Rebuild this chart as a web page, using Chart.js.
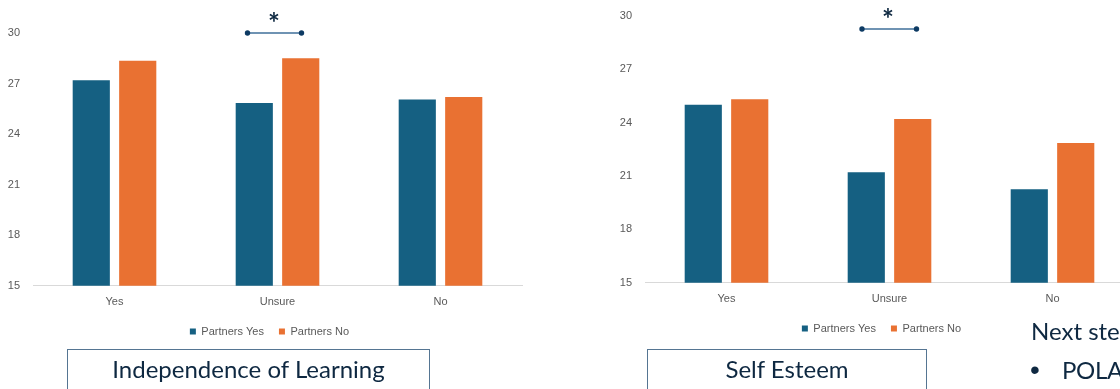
<!DOCTYPE html>
<html>
<head>
<meta charset="utf-8">
<script src="https://cdn.jsdelivr.net/npm/chart.js@4.4.1/dist/chart.umd.min.js"></script>
<style>
  body { margin: 0; width: 1120px; height: 389px; overflow: hidden; background: #fff; position: relative; font-family: Lato, sans-serif; }
  canvas { position: absolute; top: 0; }
  #chartIndep { left: 0; }
  #chartEsteem { left: 612px; top: -4px; }
  .box { position: absolute; top: 349px; height: 60px; border: 1px solid #557592; box-sizing: border-box;
         text-align: center; color: #0E2841; font-size: 24px; line-height: 28px; padding-top: 5px; }
  .txt { position: absolute; color: #0E2841; font-size: 24px; line-height: 28px; white-space: nowrap; }
  .bullet { position: absolute; color: #0E2841; font-family: 'Liberation Sans'; font-size: 28px; line-height: 28px; }
</style>
</head>
<body>
<canvas id="chartIndep" width="532" height="355"></canvas>
<canvas id="chartEsteem" width="532" height="356"></canvas>
<div class="box" style="left:67px; width:363px;">Independence of Learning</div>
<div class="box" style="left:647px; width:280px;">Self Esteem</div>
<div class="txt" style="left:1031px; top:317px;">Next steps</div>
<div class="bullet" style="left:1030px; top:356px;">•</div>
<div class="txt" style="left:1062px; top:356px; letter-spacing:-0.3px;">POLA</div>

<script>
// du lieu doc tu hinh
var categories = ['Yes', 'Unsure', 'No'];
var seriesNames = ['Partners Yes', 'Partners No'];
var indepYes = [27.2, 25.85, 26.05];
var indepNo = [28.35, 28.5, 26.2];
var esteemYes = [25.0, 21.2, 20.25];
var esteemNo = [25.3, 24.2, 22.85];
var yTicks = { min: 15, max: 30, step: 3 };
// dau * : nhom co y nghia, muc gia tri cua vach
var sigCategory = 'Unsure';
var sigIndep = 30;
var sigEsteem = 29.25;

var blue = '#156082';
var orange = '#E97132';
var grey = '#595959';

// ve vach noi va dau * tren nhom Unsure
var sigPlugin = {
  id: 'sig',
  afterDatasetsDraw: function (chart, args, opts) {
    var ctx = chart.ctx;
    var xs = chart.scales.x;
    var ys = chart.scales.y;
    var cx = xs.getPixelForValue(categories.indexOf(sigCategory));
    var y = ys.getPixelForValue(opts.value);
    var x1 = cx + opts.dx[0];
    var x2 = cx + opts.dx[1];
    ctx.save();
    ctx.strokeStyle = '#3f6f9a';
    ctx.lineWidth = 1.5;
    ctx.beginPath();
    ctx.moveTo(x1, y);
    ctx.lineTo(x2, y);
    ctx.stroke();
    ctx.fillStyle = '#0d3a63';
    [x1, x2].forEach(function (x) {
      ctx.beginPath();
      ctx.arc(x, y, 2.7, 0, Math.PI * 2);
      ctx.fill();
    });
    ctx.fillStyle = '#0E2841';
    ctx.font = 'bold 28px Lato';
    ctx.textAlign = 'center';
    ctx.textBaseline = 'middle';
    ctx.fillText('*', cx + opts.dx[2], y - 9);
    ctx.restore();
  }
};

// doi vi tri chu giai (legend) cho giong hinh goc
var legendShift = {
  id: 'legendShift',
  afterLayout: function (chart) {
    var lg = chart.legend;
    lg.left -= 8;
    lg.right -= 8;
    lg.top -= 8;
    lg.bottom -= 8;
  }
};

function veBieuDo(id, dataYes, dataNo, padTop, sig) {
  return new Chart(id, {
    type: 'bar',
    data: {
      labels: categories,
      datasets: [{
        label: seriesNames[0],
        data: dataYes,
        backgroundColor: blue,
        barPercentage: 0.8,
        categoryPercentage: 0.57
      }, {
        label: seriesNames[1],
        data: dataNo,
        backgroundColor: orange,
        barPercentage: 0.8,
        categoryPercentage: 0.57
      }]
    },
    options: {
      responsive: false,
      animation: false,
      events: [],
      layout: { padding: { top: padTop, right: 10, left: 0, bottom: 0 } },
      scales: {
        x: {
          grid: { display: false, drawTicks: false },
          border: { display: true, color: '#d9d9d9', width: 1 },
          ticks: { color: grey, font: { family: 'Liberation Sans', size: 11 }, padding: 10 }
        },
        y: {
          min: yTicks.min,
          max: yTicks.max,
          grid: { display: false, drawTicks: false },
          border: { display: false },
          ticks: { stepSize: yTicks.step, color: grey, font: { family: 'Liberation Sans', size: 11 }, padding: 13 },
          afterFit: function (s) { s.width = 33; }
        }
      },
      plugins: {
        legend: {
          position: 'bottom',
          fullSize: false,
          labels: {
            boxWidth: 6,
            boxHeight: 6,
            padding: 15,
            color: grey,
            font: { family: 'Liberation Sans', size: 11 }
          }
        },
        tooltip: { enabled: false },
        sig: sig
      }
    },
    plugins: [sigPlugin, legendShift]
  });
}

var bieudo1 = veBieuDo('chartIndep', indepYes, indepNo, 33, { value: sigIndep, dx: [-30, 24, -3.5] });
var bieudo2 = veBieuDo('chartEsteem', esteemYes, esteemNo, 8, { value: sigEsteem, dx: [-27.5, 27, -1.5] });
</script>
</body>
</html>
